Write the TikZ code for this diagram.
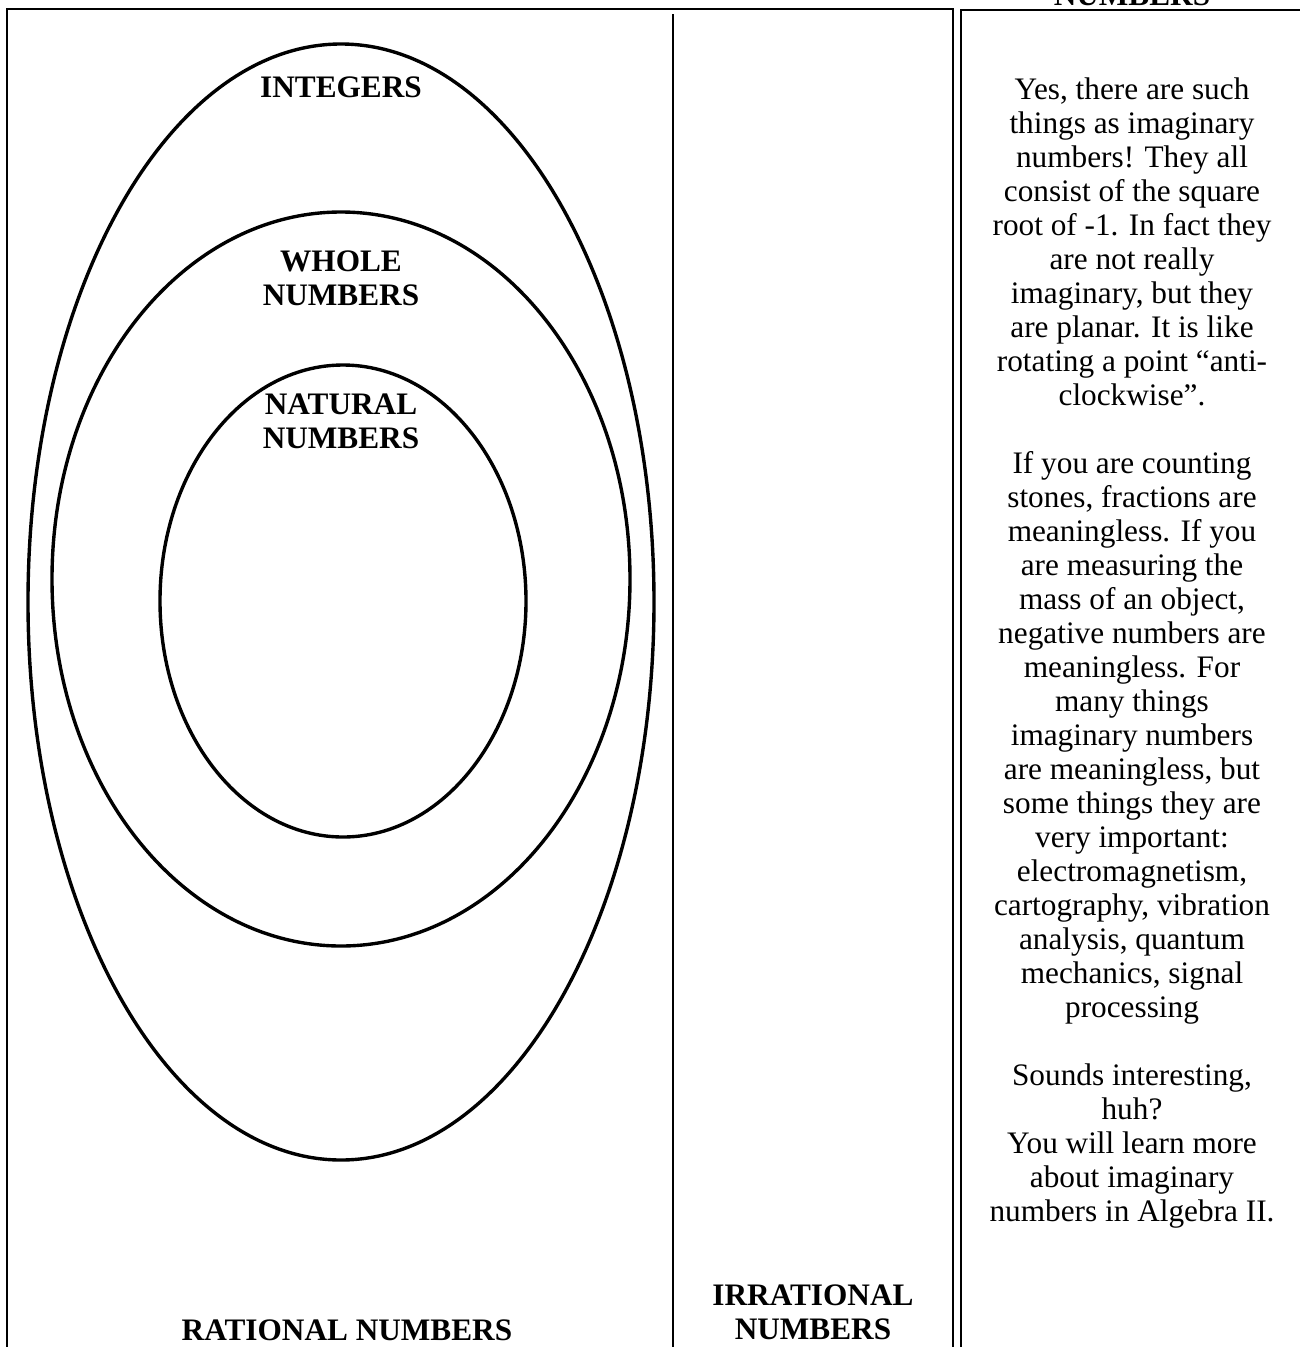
\documentclass[tikz,border=0pt]{standalone}
\usepackage{fontspec}
\setmainfont{Liberation Serif}
\usepackage{tikz}
\usetikzlibrary{positioning}

\begin{document}
\begin{tikzpicture}[
  x=0.3836pt, y=-0.3836pt,
  node distance=0pt,
  frame/.style={line width=1pt},
  ring/.style={line width=1.3pt},
  setlabel/.style={font=\fontsize{12}{13.04}\selectfont\bfseries,align=center,inner sep=0pt},
  note/.style={font=\fontsize{12}{13.04}\selectfont,align=center,inner sep=0pt}
]
\clip (0,0) rectangle (1300,1347);
% panels
\draw[frame] (7,1360) -- (7,9) -- (953,9) -- (953,1360);
\draw[frame] (961,1360) -- (961,10) -- (1320,10);
\draw[line width=0.8pt] (673,14) -- (673,1360);
% nested sets
\draw[ring] (341,602) ellipse [x radius=313, y radius=558];
\draw[ring] (341,579) ellipse [x radius=289, y radius=367];
\draw[ring] (343,601) ellipse [x radius=183, y radius=236];
\node[setlabel,anchor=base] (integers) at (341,97) {INTEGERS};
\node[setlabel,anchor=north] (whole) at (341,250) {WHOLE\\NUMBERS};
\node[setlabel,anchor=north] (natural) at (341,393) {NATURAL\\NUMBERS};
\node[setlabel,anchor=base] (rational) at (347,1340) {RATIONAL NUMBERS};
\node[setlabel,anchor=north] (irrational) at (813,1284) {IRRATIONAL\\NUMBERS};
\node[setlabel,anchor=base] (imaginary) at (1132,5) {NUMBERS};
% side note
\node[note,anchor=north] (text) at (1132,77) {Yes, there are such\\
things as imaginary\\
numbers!  They all\\
consist of the square\\
root of -1.  In fact they\\
are not really\\
imaginary, but they\\
are planar.  It is like\\
rotating a point “anti-\\
clockwise”.\\
~\\
If you are counting\\
stones, fractions are\\
meaningless.  If you\\
are measuring the\\
mass of an object,\\
negative numbers are\\
meaningless.  For\\
many things\\
imaginary numbers\\
are meaningless, but\\
some things they are\\
very important:\\
electromagnetism,\\
cartography, vibration\\
analysis, quantum\\
mechanics, signal\\
processing\\
~\\
Sounds interesting,\\
huh?\\
You will learn more\\
about imaginary\\
numbers in Algebra II.};
\end{tikzpicture}
\end{document}
